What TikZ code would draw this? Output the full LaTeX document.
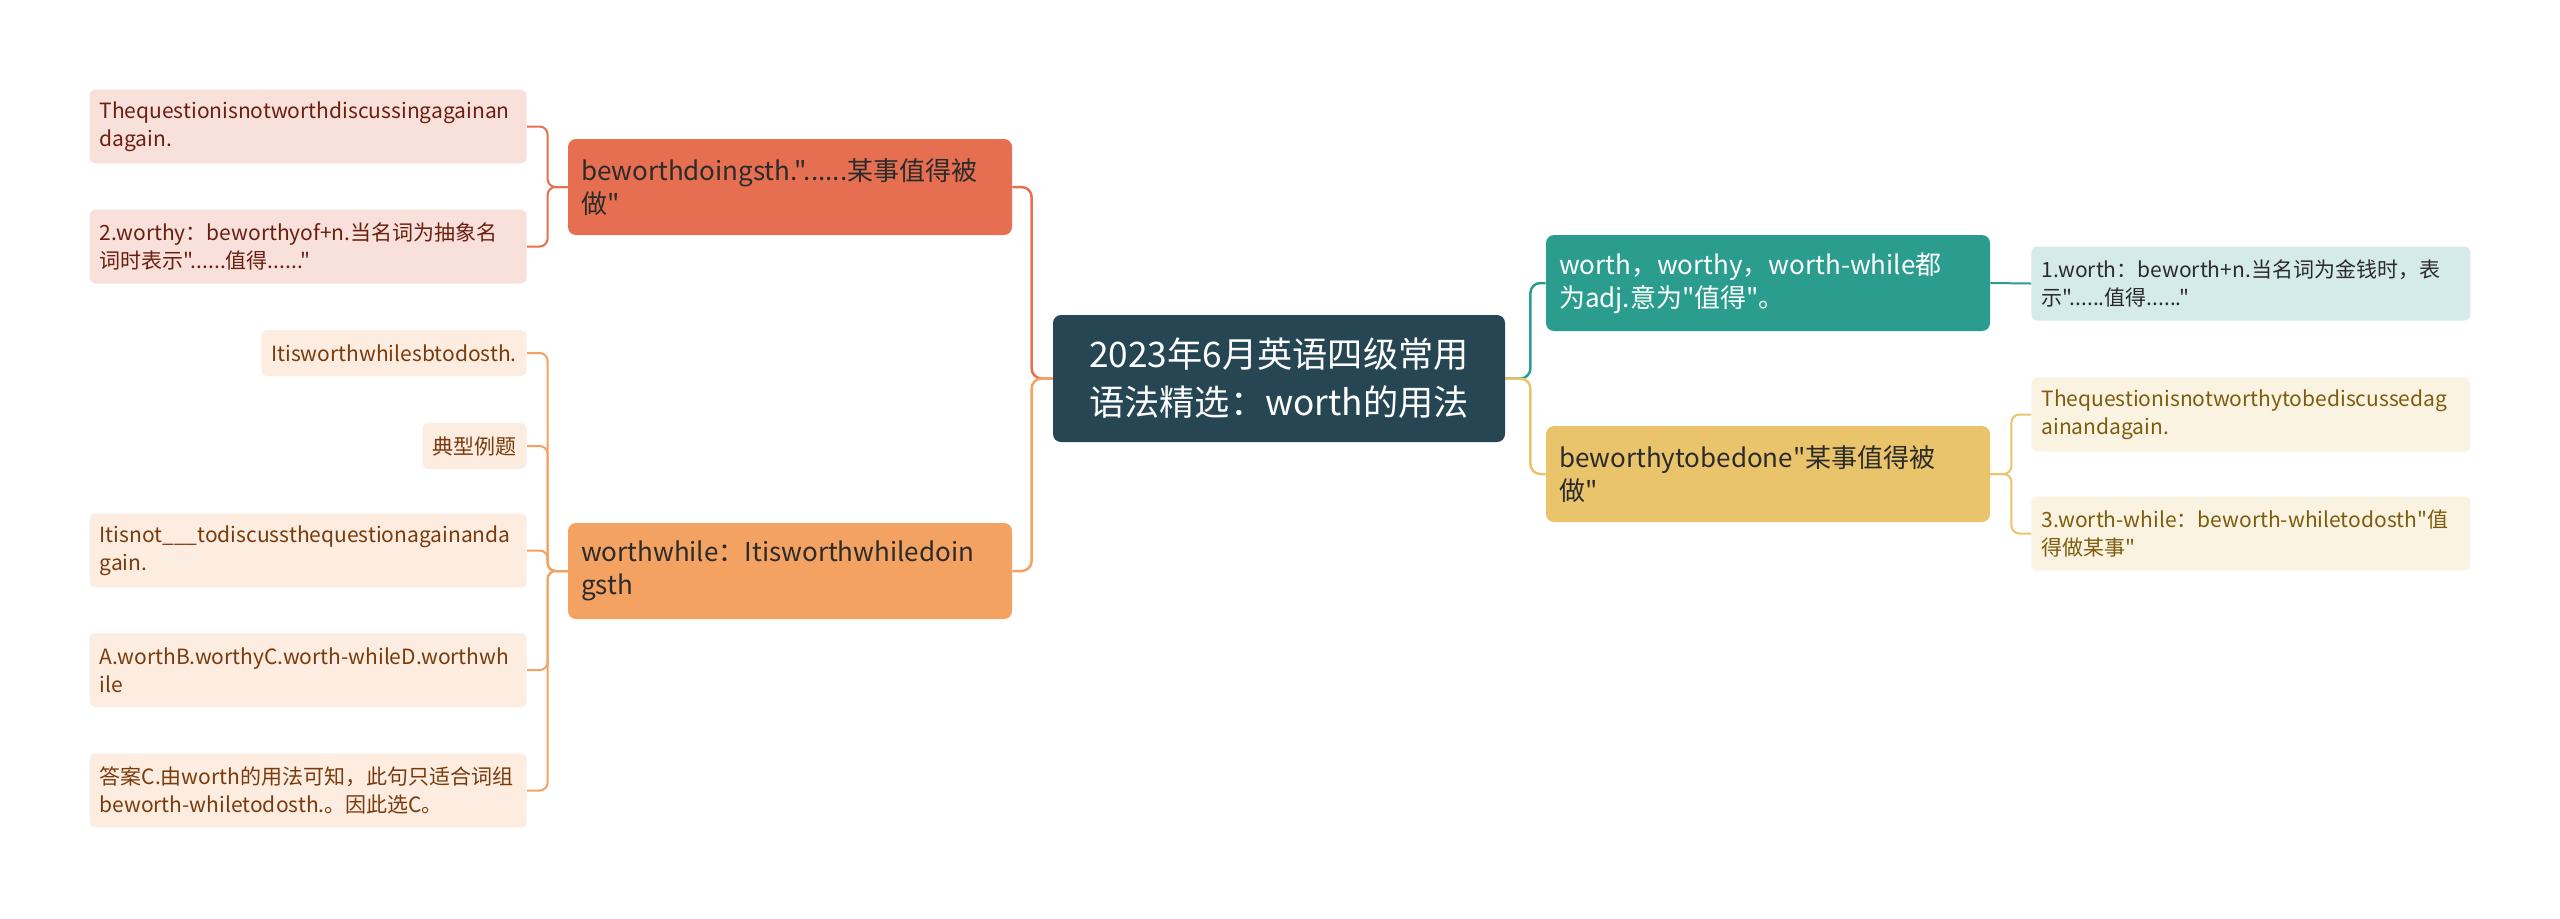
\documentclass[tikz,border=0pt]{standalone}
\usepackage{fontspec}
\setmainfont{Noto Sans CJK SC}[Ligatures=TeXOff]
\usetikzlibrary{positioning}

\definecolor{rootc}{HTML}{264653}
\definecolor{redc}{HTML}{E76F51}
\definecolor{orangec}{HTML}{F4A261}
\definecolor{tealc}{HTML}{2A9D8F}
\definecolor{yellowc}{HTML}{E9C46A}
\definecolor{redleaf}{HTML}{F9E1DB}
\definecolor{orangeleaf}{HTML}{FDEDE1}
\definecolor{tealleaf}{HTML}{D5EBEA}
\definecolor{yellowleaf}{HTML}{FBF3E1}
\definecolor{redtext}{HTML}{6B1F10}
\definecolor{orangetext}{HTML}{7A3B0C}
\definecolor{yellowtext}{HTML}{7D5C0E}
\definecolor{darktext}{HTML}{2B2B2B}

\begin{document}
\begin{tikzpicture}[x=0.5pt, y=-0.5pt,
  rootbox/.style={rectangle, rounded corners=4pt, fill=rootc, text=white, align=center,
    minimum width=226pt, minimum height=63.5pt, font=\fontsize{17.6}{24}\selectfont},
  branchbox/.style={rectangle, rounded corners=4pt, text width=209pt, inner xsep=6.5pt,
    minimum height=48pt, align=left, font=\fontsize{13}{16.5}\selectfont},
  leafbox/.style={rectangle, rounded corners=3pt, text width=208.5pt, inner xsep=5pt,
    minimum height=37pt, align=left, font=\fontsize{10.5}{14}\selectfont},
  shortleaf/.style={rectangle, rounded corners=3pt, inner xsep=5pt,
    minimum height=23pt, font=\fontsize{10.5}{14}\selectfont},
  link/.style={line width=1.25pt, rounded corners=5pt},
  leaflink/.style={line width=1pt, rounded corners=4pt}]

\fill[white] (0,0) rectangle (2560,918);
\useasboundingbox (0,0) rectangle (2560,918);

% centre
\node[rootbox] (root) at (1279,378.5) {2023年6月英语四级常用\\语法精选：worth的用法};

% main branches
\node[branchbox, fill=redc, text=darktext] (bdoing) at (790,187) {beworthdoingsth."......某事值得被\\做"};
\node[branchbox, fill=orangec, text=darktext] (bwhile) at (790,571) {worthwhile：Itisworthwhiledoin\\gsth};
\node[branchbox, fill=tealc, text=white] (badj) at (1768,283) {worth，worthy，worth-while都\\为adj.意为"值得"。};
\node[branchbox, fill=yellowc, text=darktext] (bdone) at (1768,474) {beworthytobedone"某事值得被\\做"};

% leaves, left
\node[leafbox, fill=redleaf, text=redtext, anchor=east] (q1) at (527,126.5) {Thequestionisnotworthdiscussingagainan\\dagain.};
\node[leafbox, fill=redleaf, text=redtext, anchor=east] (worthy) at (527,246.5) {2.worthy：beworthyof+n.当名词为抽象名\\词时表示"......值得......"};
\node[shortleaf, fill=orangeleaf, text=orangetext, anchor=east] (sbto) at (527,353) {Itisworthwhilesbtodosth.};
\node[shortleaf, fill=orangeleaf, text=orangetext, anchor=east] (example) at (527,446) {典型例题};
\node[leafbox, fill=orangeleaf, text=orangetext, anchor=east] (blank) at (527,550.5) {Itisnot\_\_\_todiscussthequestionagainanda\\gain.};
\node[leafbox, fill=orangeleaf, text=orangetext, anchor=east] (options) at (527,670) {A.worthB.worthyC.worth-whileD.worthwh\\ile};
\node[leafbox, fill=orangeleaf, text=orangetext, anchor=east] (answer) at (527,790.5) {答案C.由worth的用法可知，此句只适合词组\\beworth-whiletodosth.。因此选C。};

% leaves, right
\node[leafbox, text width=209.5pt, fill=tealleaf, text=darktext, anchor=west] (money) at (2031,283.5) {1.worth：beworth+n.当名词为金钱时，表\\示"......值得......"};
\node[leafbox, text width=209.5pt, fill=yellowleaf, text=yellowtext, anchor=west] (q2) at (2031,414.5) {Thequestionisnotworthytobediscussedag\\ainandagain.};
\node[leafbox, text width=209.5pt, fill=yellowleaf, text=yellowtext, anchor=west] (todo) at (2031,533.5) {3.worth-while：beworth-whiletodosth"值\\得做某事"};

% connectors
\draw[link, redc] (root.west) -- ++(-21,0) |- (bdoing.east);
\draw[link, orangec] (root.west) -- ++(-21,0) |- (bwhile.east);
\draw[link, tealc] (root.east) -- ++(25,0) |- (badj.west);
\draw[link, yellowc] (root.east) -- ++(25,0) |- (bdone.west);

\draw[leaflink, redc] (bdoing.west) -- ++(-20,0) |- (q1.east);
\draw[leaflink, redc] (bdoing.west) -- ++(-20,0) |- (worthy.east);
\foreach \n in {sbto,example,blank,options,answer}
  \draw[leaflink, orangec] (bwhile.west) -- ++(-20,0) |- (\n.east);
\draw[leaflink, tealc] (badj.east) -- (money.west);
\draw[leaflink, yellowc] (bdone.east) -- ++(21,0) |- (q2.west);
\draw[leaflink, yellowc] (bdone.east) -- ++(21,0) |- (todo.west);
\end{tikzpicture}
\end{document}
